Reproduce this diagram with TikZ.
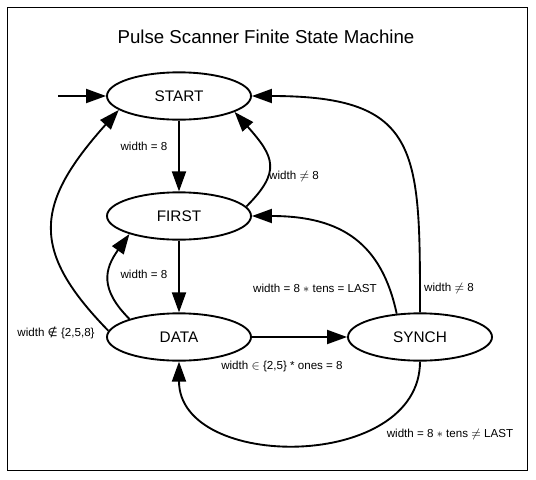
\documentclass[tikz,border=0pt]{standalone}
\usepackage{fontspec}
\setmainfont{Liberation Sans}
\newfontfamily\symfont{DejaVu Sans}
\usepackage{tikz}
\usetikzlibrary{positioning, shapes, arrows.meta}
\tikzset{
  state/.style={ellipse, draw=black, line width=1.4pt, minimum width=108pt, minimum height=35.5pt, inner sep=0pt, font=\fontsize{11.5}{13}\selectfont},
  lbl/.style={font=\fontsize{8.7}{10}\selectfont, inner sep=0pt},
  trans/.style={line width=1.4pt, -{Triangle[length=15pt,width=10.5pt]}}
}

\begin{document}
\begin{tikzpicture}[x=0.75pt, y=-0.75pt]
        \useasboundingbox (0,0) rectangle (536,479);
        \draw[line width=0.75pt] (7,7) rectangle (527,470);
        \node[font=\fontsize{14}{16}\selectfont] (title) at (266,37) {Pulse Scanner Finite State Machine};

        % Les états
        \node[state] (start) at (179,96) {START};
        \node[state] (first) at (179,216) {FIRST};
        \node[state] (data) at (179,337) {DATA};
        \node[state] (synch) at (420,337) {SYNCH};
        \coordinate (init) at (58,96);

        % Les transitions
        \draw[trans] (init) -- (start);
        \draw[trans] (start) -- (first);
        \draw[trans] (first) -- (data);
        \draw[trans] (data) -- (synch);
        \draw[trans] (first.8) .. controls +(35,-35) and +(40,45) .. (start.-16);
        \draw[trans] (data.160) .. controls +(-30,-30) and +(-25,35) .. (first.200);
        \draw[trans] (data.175) .. controls +(-78,-80) and +(-85,95) .. (start.193);
        \draw[trans] (synch.135) .. controls +(-15,-70) and +(90,0) .. (first.east);
        \draw[trans] (synch.north) .. controls +(0,-162) and +(169,0) .. (start.east);
        \draw[trans] (synch.south) .. controls +(0,110) and +(0,110) .. (data.south);

        % Les étiquettes
        \node[lbl] (l1) at (144,146) {width = 8};
        \node[lbl] (l2) at (294,176) {width $\neq$ 8};
        \node[lbl] (l3) at (144,274) {width = 8};
        \node[lbl] (l4) at (315,288) {width = 8 $\ast$ tens = LAST};
        \node[lbl] (l5) at (449,288) {width $\neq$ 8};
        \node[lbl] (l6) at (282,366) {width $\in$ \{2,5\} * ones = 8};
        \node[lbl] (l7) at (450,434) {width = 8 $\ast$ tens $\neq$ LAST};
        \node[lbl] (l8) at (56,333) {width {\symfont ∉} \{2,5,8\}};
    \end{tikzpicture}
\end{document}
